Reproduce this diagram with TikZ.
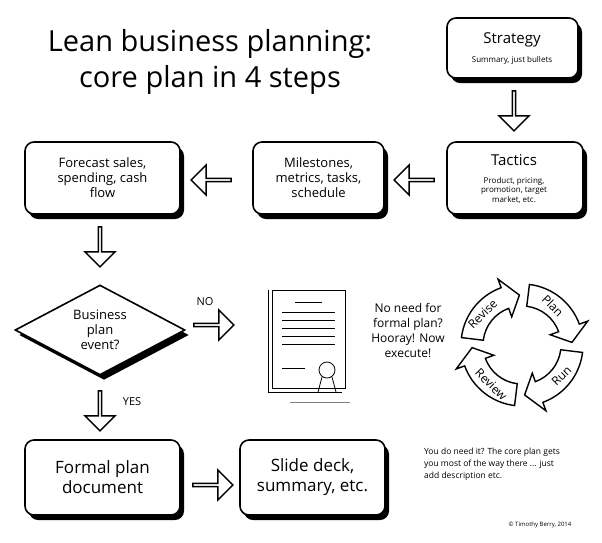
\documentclass[tikz,border=0pt]{standalone}
\usepackage{fontspec}
\setmainfont{Open Sans}
\usetikzlibrary{shapes.arrows,shapes.geometric,arrows.meta}
\tikzset{
 box/.style={draw=black,line width=1.6pt,rounded corners=9pt,fill=white,align=center,inner sep=4pt},
 shadowbox/.style={fill=black,rounded corners=9pt},
 barrow/.style={single arrow,draw=black,line width=1.5pt,fill=white,minimum height=40pt,minimum width=30pt,single arrow head extend=6pt,inner sep=0pt},
 txt/.style={align=center,font=\fontsize{13}{15}\selectfont},
 small/.style={align=center,font=\fontsize{8}{9.5}\selectfont},
 diam/.style={diamond,line width=1.6pt,minimum width=170pt,minimum height=90pt,aspect=1.9,inner sep=0pt},
 cyc/.style={font=\fontsize{12}{14}\selectfont},
}
\newcommand{\shbox}[5]{% name, x1,y1,x2,y2
 \fill[shadowbox] (#2+4,#3+5) rectangle (#4+4,#5+5);
 \draw[box] (#2,#3) rectangle (#4,#5);
 \coordinate (#1) at ({(#2+#4)/2},{(#3+#5)/2});}
\begin{document}
\begin{tikzpicture}[x=1pt,y=-1pt]
\useasboundingbox (0,0) rectangle (602,542);
\fill[white] (0,0) rectangle (602,542);
\node[align=center,font=\fontsize{29}{36}\selectfont] (title) at (210,62) {Lean business planning:\\core plan in 4 steps};
% boxes
\shbox{strat}{447}{18}{578}{78}
\node[txt,font=\fontsize{15}{17}\selectfont] (st) at (512,40) {Strategy};
\node[small] (sts) at (512,60) {Summary, just bullets};
\shbox{tac}{447}{142}{583}{214}
\node[txt,font=\fontsize{15}{17}\selectfont] (tt) at (514,160) {Tactics};
\node[small] (tts) at (514,190) {Product, pricing,\\promotion, target\\market, etc.};
\shbox{mil}{253}{142}{384}{214}
\node[txt] (mt) at (mil) {Milestones,\\metrics, tasks,\\schedule};
\shbox{fc}{25}{142}{180}{214}
\node[txt] (ft) at (fc) {Forecast sales,\\spending, cash\\flow};
\shbox{fp}{25}{440}{180}{515}
\node[txt,font=\fontsize{17}{20}\selectfont] (fpt) at (fp) {Formal plan\\document};
\shbox{sd}{240}{440}{385}{515}
\node[txt,font=\fontsize{17}{20}\selectfont] (sdt) at (sd) {Slide deck,\\summary, etc.};
% diamond
\node[diam,fill=black] (dias) at (104,335) {};
\node[diam,draw,fill=white] (dia) at (100,330) {};
\node[txt] (dt) at (100,330) {Business\\plan\\event?};
% arrows
\node[barrow,shape border rotate=270] (a1) at (514,110) {};
\node[barrow,shape border rotate=180] (a2) at (415,180) {};
\node[barrow,shape border rotate=180] (a3) at (212,180) {};
\node[barrow,shape border rotate=270] (a4) at (100,246) {};
\node[barrow] (a5) at (213,325) {};
\node[barrow,shape border rotate=270] (a6) at (100,410) {};
\node[barrow] (a7) at (212,485) {};
\node[font=\fontsize{11}{13}\selectfont] (no) at (205,302) {NO};
\node[font=\fontsize{11}{13}\selectfont] (yes) at (132,402) {YES};
% document
\draw[line width=1pt,fill=white] (272,290) rectangle (345,388);
\draw[line width=0.6pt] (268,290) -- (268,392) -- (342,392);
\foreach \yy in {312,320,328,336,344}{\draw[line width=0.8pt] (282,\yy) -- (335,\yy);}
\draw[line width=0.8pt] (295,302) -- (322,302);
\draw[line width=0.6pt] (282,368) -- (305,368);
\draw[line width=0.8pt,fill=white] (327,370) circle (8);
\draw[line width=0.8pt] (322,377) -- (318,392) (332,377) -- (336,392);
\draw[line width=0.5pt,gray] (290,402) -- (350,402);
\node[txt,font=\fontsize{12}{15}\selectfont] (nn) at (408,330) {No need for\\formal plan?\\Hooray! Now\\execute!};
% cycle
\begin{scope}[shift={(522,345)}]
\foreach \c in {45,-45,-135,135}{
 \draw[line width=1.4pt,fill=white] (\c+38:61pt) arc[start angle=\c+38,end angle=\c-25,radius=61pt]
  -- (\c-25:70pt) -- (\c-42:50pt) -- (\c-25:30pt) -- (\c-25:39pt) arc[start angle=\c-25,end angle=\c+38,radius=39pt] -- cycle;}
\node[cyc,rotate=-45] (pl) at (52:50pt) {Plan};
\node[cyc,rotate=45] (ru) at (-38:50pt) {Run};
\node[cyc,rotate=-45] (re) at (-128:50pt) {Review};
\node[cyc,rotate=45] (rv) at (142:50pt) {Revise};
\end{scope}
\node[align=left,font=\fontsize{8.5}{12}\selectfont] (yd) at (492,464) {You do need it? The core plan gets\\you most of the way there ... just\\add description etc.};
\node[font=\fontsize{6}{7}\selectfont] (cp) at (540,525) {© Timothy Berry, 2014};
\end{tikzpicture}
\end{document}
